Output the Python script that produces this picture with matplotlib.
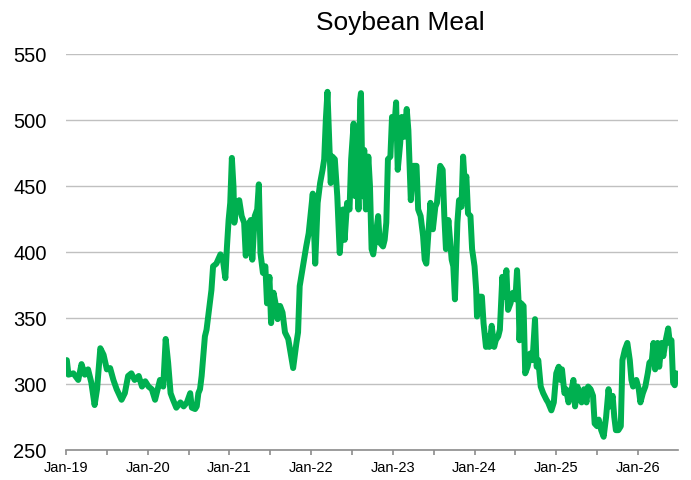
import numpy as np
import matplotlib
matplotlib.use("Agg")
import matplotlib.pyplot as plt
from matplotlib.ticker import FixedLocator

plt.rcParams['font.family'] = ['Liberation Sans', 'DejaVu Sans']

title = "Soybean Meal"
line_color = "#00B050"

# decimal year, price ($/short ton)
years_19_20 = [2019.01, 2019.03, 2019.09, 2019.15, 2019.19, 2019.23, 2019.27, 2019.31, 2019.35, 2019.38,
               2019.42, 2019.46, 2019.50, 2019.54, 2019.58, 2019.62, 2019.68, 2019.72, 2019.76, 2019.80,
               2019.84, 2019.89, 2019.93, 2019.97, 2020.01, 2020.05, 2020.09, 2020.15, 2020.19, 2020.22,
               2020.25, 2020.28, 2020.31, 2020.35, 2020.40, 2020.44, 2020.48, 2020.52, 2020.54, 2020.58,
               2020.60, 2020.62, 2020.64]
price_19_20 = [318, 307, 308, 303, 315, 307, 311, 301, 284, 296,
               327, 322, 311, 312, 303, 296, 288, 293, 306, 308,
               303, 306, 298, 302, 298, 296, 288, 303, 298, 334,
               316, 293, 288, 282, 286, 283, 286, 293, 282, 281,
               283, 293, 296]

years_21 = [2020.66, 2020.70, 2020.72, 2020.75, 2020.78, 2020.80, 2020.84, 2020.89, 2020.92, 2020.95,
            2020.97, 2020.99, 2021.01, 2021.03, 2021.05, 2021.06, 2021.09, 2021.12, 2021.15, 2021.18,
            2021.20, 2021.23, 2021.26, 2021.28, 2021.31, 2021.34, 2021.36, 2021.38, 2021.41, 2021.44,
            2021.46, 2021.49, 2021.51, 2021.54, 2021.57, 2021.59, 2021.62, 2021.65, 2021.68, 2021.72,
            2021.75, 2021.78, 2021.82, 2021.84]
price_21 = [306, 336, 341, 356, 371, 389, 391, 398, 394, 380,
            404, 424, 437, 471, 449, 422, 437, 439, 427, 422,
            397, 419, 424, 394, 427, 432, 451, 399, 384, 389,
            361, 381, 346, 369, 359, 349, 359, 354, 339, 334,
            323, 312, 331, 339]

years_22_23 = [2021.86, 2021.94, 2021.97, 2022.00, 2022.02, 2022.05, 2022.08, 2022.11, 2022.14, 2022.16,
               2022.18, 2022.20, 2022.22, 2022.24, 2022.26, 2022.29, 2022.32, 2022.35, 2022.39, 2022.41,
               2022.44, 2022.47, 2022.49, 2022.52, 2022.54, 2022.56, 2022.58, 2022.60, 2022.61, 2022.63,
               2022.65, 2022.67, 2022.70, 2022.72, 2022.74, 2022.76, 2022.79, 2022.82, 2022.84, 2022.88,
               2022.90, 2022.92, 2022.94, 2022.97, 2022.99, 2023.01, 2023.04, 2023.06, 2023.09, 2023.11,
               2023.14, 2023.17, 2023.19, 2023.22, 2023.25, 2023.29, 2023.31, 2023.34, 2023.37, 2023.39,
               2023.41, 2023.46, 2023.49, 2023.52, 2023.54]
price_22_23 = [374, 404, 414, 432, 444, 391, 437, 452, 462, 470,
               500, 521, 487, 452, 472, 470, 442, 399, 432, 409,
               437, 432, 470, 497, 442, 472, 432, 515, 520, 442,
               477, 432, 472, 450, 402, 398, 412, 427, 407, 404,
               409, 422, 470, 472, 502, 487, 513, 462, 482, 502,
               487, 508, 492, 439, 465, 465, 432, 427, 412, 394,
               391, 437, 417, 434, 437]

years_24_26 = [2023.58, 2023.61, 2023.63, 2023.65, 2023.68, 2023.70, 2023.72, 2023.74, 2023.76, 2023.79,
               2023.81, 2023.84, 2023.86, 2023.88, 2023.90, 2023.92, 2023.95, 2023.97, 2024.00, 2024.02,
               2024.03, 2024.06, 2024.09, 2024.11, 2024.14, 2024.16, 2024.18, 2024.21, 2024.24, 2024.26,
               2024.29, 2024.31, 2024.34, 2024.36, 2024.38, 2024.39, 2024.41, 2024.44, 2024.47, 2024.50,
               2024.52, 2024.54, 2024.55, 2024.57, 2024.60, 2024.62, 2024.65, 2024.68, 2024.71, 2024.74,
               2024.76, 2024.78, 2024.81, 2024.84, 2024.88, 2024.90, 2024.94, 2024.97, 2025.00, 2025.03,
               2025.05, 2025.07, 2025.10, 2025.12, 2025.15, 2025.18, 2025.21, 2025.23, 2025.26, 2025.28,
               2025.31, 2025.34, 2025.37, 2025.39, 2025.42, 2025.45, 2025.47, 2025.50, 2025.52, 2025.55,
               2025.58, 2025.61, 2025.64, 2025.66, 2025.69, 2025.71, 2025.73, 2025.76, 2025.79, 2025.81,
               2025.84, 2025.87, 2025.90, 2025.92, 2025.94, 2025.98, 2026.01, 2026.03, 2026.06, 2026.09,
               2026.12, 2026.14, 2026.17, 2026.19, 2026.21, 2026.24, 2026.26, 2026.29, 2026.31, 2026.34,
               2026.37, 2026.39, 2026.41, 2026.43, 2026.45, 2026.47, 2026.49]
price_24_26 = [465, 462, 427, 402, 424, 409, 394, 389, 364, 422,
               439, 434, 472, 452, 457, 429, 427, 402, 389, 371,
               351, 366, 366, 346, 328, 336, 328, 344, 328, 333,
               336, 341, 381, 366, 381, 386, 356, 361, 369, 364,
               386, 361, 333, 361, 359, 308, 313, 323, 318, 349,
               313, 318, 298, 293, 288, 286, 280, 286, 308, 313,
               303, 311, 293, 296, 286, 293, 303, 283, 298, 293,
               286, 296, 286, 298, 296, 291, 270, 268, 273, 265,
               260, 275, 296, 283, 291, 275, 265, 265, 268, 318,
               326, 331, 318, 303, 298, 303, 296, 286, 293, 298,
               308, 316, 318, 331, 311, 331, 313, 331, 321, 333,
               342, 331, 333, 301, 299, 308, 307]

years = np.array(years_19_20 + years_21 + years_22_23 + years_24_26)
price = np.array(price_19_20 + price_21 + price_22_23 + price_24_26)

tick_years = list(range(2019, 2027))
tick_labels = ["Jan-19", "Jan-20", "Jan-21", "Jan-22", "Jan-23", "Jan-24", "Jan-25", "Jan-26"]

fig = plt.figure(figsize=(6.91, 4.81), dpi=100)
ax = fig.add_axes([66 / 691, 1 - 451 / 481, 612 / 691, 396.5 / 481])

ax.plot(years, price, color=line_color, lw=4.3, solid_joinstyle="round", solid_capstyle="round", zorder=3)

ax.set_xlim(2019, 2026.49)
ax.set_ylim(250, 550)
ax.set_yticks([250, 300, 350, 400, 450, 500, 550])
ax.grid(axis="y", color="#C0C0C0", lw=1)
ax.set_axisbelow(True)

ax.xaxis.set_major_locator(FixedLocator(tick_years))
ax.set_xticklabels(tick_labels)
ax.xaxis.set_minor_locator(FixedLocator([y + 0.5 for y in tick_years[:-1]]))

for s in ["top", "right", "left"]:
    ax.spines[s].set_visible(False)
ax.spines["bottom"].set_color("#8C8C8C")
ax.spines["bottom"].set_linewidth(1.2)

ax.tick_params(axis="y", length=0, pad=14, labelsize=14.5)
ax.tick_params(axis="x", which="both", direction="out", length=3.5, width=1.2,
               color="#8C8C8C", labelsize=10.5, pad=4)

fig.text(400 / 691, 1 - 23 / 481, title, ha="center", va="center", fontsize=19)

fig.savefig("out.png", dpi=100)
